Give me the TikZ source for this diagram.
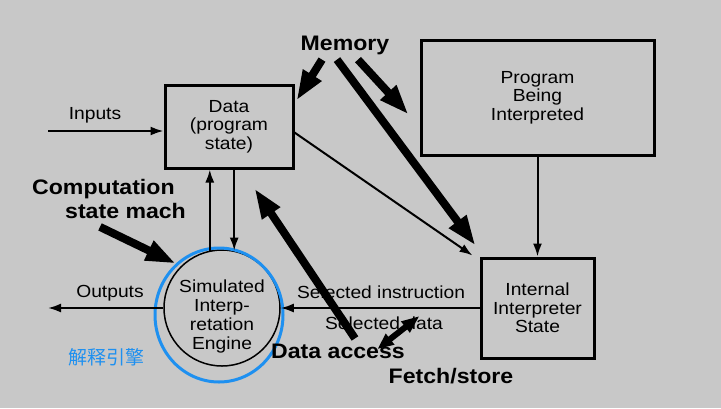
\documentclass[tikz,border=0pt]{standalone}
\usepackage{fontspec}
\setmainfont{Liberation Sans}[FakeStretch=1.1]
\newfontfamily\cjk{Noto Sans CJK SC}
\usetikzlibrary{arrows.meta,shapes.geometric}
\definecolor{bggray}{RGB}{200,200,200}
\definecolor{markblue}{RGB}{30,144,240}
\tikzset{
    box/.style={draw, line width=3pt, align=center, inner sep=0pt,
        font=\fontsize{17.5}{18.5}\selectfont},
    lbl/.style={inner sep=0pt, align=center, font=\fontsize{17.5}{19}\selectfont},
    big/.style={inner sep=0pt, align=left, font=\fontsize{21}{24}\selectfont\bfseries},
    thin/.style={line width=2pt, -{Latex[length=13pt,width=9pt]}},
    fat/.style={line width=8pt, -{Triangle[length=30pt,width=20pt]}},
    fetchio/.style={line width=6pt, {Triangle[length=16pt,width=13pt]}-{Triangle[length=18pt,width=13pt]}}
}
\begin{document}
\begin{tikzpicture}[x=1pt,y=-1pt]
        % Background
        \fill[bggray] (0,0) rectangle (721,408);

        % Boxes and engine
        \node[box, minimum width=128pt, minimum height=83pt] (data) at (229,126.5) {Data\\(program\\state)};
        \node[box, minimum width=233pt, minimum height=115pt] (prog) at (537.5,97.5) {Program\\Being\\Interpreted};
        \node[box, minimum width=113pt, minimum height=100pt] (state) at (537.5,308) {Internal\\Interpreter\\State};
        \node[draw, circle, line width=1.5pt, minimum size=116pt, inner sep=0pt] (engine) at (222,308) {};
        \node[lbl] (engtext) at (222,316) {Simulated\\Interp-\\retation\\Engine};
        \node[draw=markblue, ellipse, line width=3pt, minimum width=128pt, minimum height=134pt] (ring) at (219,315) {};
        \node[markblue, inner sep=0pt, font=\cjk\fontsize{19}{20}\selectfont] (cjklabel) at (106,357) {解释引擎};

        % Inputs and outputs
        \coordinate (in) at (48,131);
        \coordinate (out) at (48,308);
        \draw[thin] (in) -- (in -| data.west);
        \node[lbl] (inputs) at (95,115) {Inputs};
        \draw[thin] (engine.west) -- (out);
        \node[lbl] (outputs) at (110,293) {Outputs};

        % Thin connectors
        \draw[thin] (engine.102) -- (engine.102 |- data.south);
        \draw[thin] (data.south -| engine.78) -- (engine.78);
        \draw[thin] ([shift={(0,6)}]data.east) -- ([shift={(-7,-1)}]state.north west);
        \draw[thin] (prog.south) -- (state.north);
        \draw[thin] (state.west) -- (engine.east);
        \node[lbl] (selinstr) at (381,292) {Selected instruction};
        \node[lbl] (seldata) at (384,323) {Selected data};

        % Memory
        \node[big] (memory) at (345,45) {Memory};
        \draw[fat] ([shift={(-23,5)}]memory.south) -- ([shift={(2,17)}]data.north east);
        \draw[fat] ([shift={(-8,5)}]memory.south) -- ([shift={(-4,-11)}]state.north west);
        \draw[fat] ([shift={(13,5)}]memory.south) -- ([shift={(-11,-42)}]prog.south west);

        % Computation state machine
        \node[big, anchor=west] (comp) at (32,199) {Computation\\\hspace*{33pt}state mach};
        \draw[fat] ([shift={(68,8)}]comp.south west) -- (ring.130);

        % Data access and fetch/store
        \node[big] (access) at (338,351) {Data access};
        \draw[fat] ([shift={(17,-5)}]access.north) -- ([shift={(-40,19)}]data.south east);
        \node[big] (fetch) at (451,376) {Fetch/store};
        \draw[fetchio] ([shift={(-11,-19)}]fetch.north west) -- ([shift={(31,-52)}]fetch.north west);
\end{tikzpicture}
\end{document}
